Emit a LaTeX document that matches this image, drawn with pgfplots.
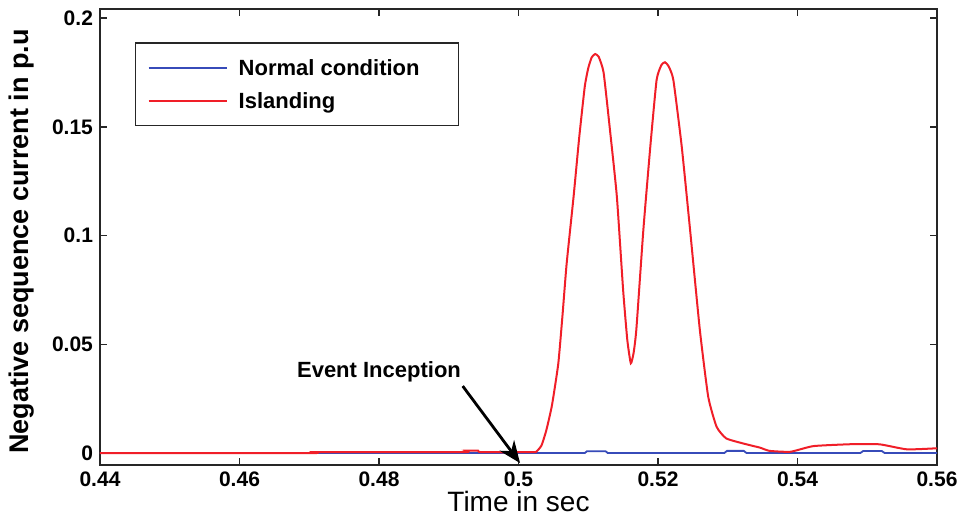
\documentclass[border=0pt]{standalone}
\usepackage{fontspec}
\setmainfont{Liberation Sans}
\usepackage{pgfplots}
\pgfplotsset{compat=1.18}
\usetikzlibrary{arrows.meta}
\definecolor{mblue}{RGB}{55,75,185}
\definecolor{mred}{RGB}{240,30,40}
\begin{document}
\begin{tikzpicture}
\begin{axis}[
  scale only axis,
  width=418.5pt, height=228pt,
  xmin=0.44, xmax=0.56, ymin=-0.0055, ymax=0.2042,
  xtick={0.44,0.46,0.48,0.5,0.52,0.54,0.56},
  xticklabels={0.44,0.46,0.48,0.5,0.52,0.54,0.56},
  ytick={0,0.05,0.1,0.15,0.2},
  yticklabels={0,0.05,0.1,0.15,0.2},
  tick align=inside,
  major tick length=3.5pt,
  xtick pos=both, ytick pos=both,
  axis line style={line width=0.75pt, black!85},
  every tick/.style={line width=0.75pt, black!85},
  tick label style={font=\bfseries\fontsize{10.5}{12}\selectfont},
  /pgf/number format/assume math mode=true,
  xlabel={Time in sec},
  ylabel={Negative sequence current in p.u},
  xlabel style={font=\fontsize{14}{16}\selectfont, at={(axis description cs:0.5,-0.1009)}, anchor=base},
  ylabel style={font=\bfseries\fontsize{13.5}{15}\selectfont, at={(axis description cs:-0.0932,0.49)}, anchor=center},
  legend style={at={(axis description cs:0.0418,0.9276)}, anchor=north west,
    draw=black!85, line width=0.75pt, inner xsep=6pt, inner ysep=6.5pt,
    row sep=4.5pt,
    font=\bfseries\fontsize{11}{13}\selectfont,
    nodes={inner ysep=2pt, inner xsep=2.5pt, text depth=0pt}},
  legend cell align=left,
  legend image code/.code={\draw[#1, line width=1pt] (0pt,0pt) -- (39pt,0pt);},
  clip=true,
]
\addplot[mblue, line width=0.9pt] coordinates {
(0.44,0) (0.5095,0) (0.5098,0.0008) (0.5125,0.0008) (0.5128,0) (0.5295,0) (0.5299,0.001) (0.5323,0.001) (0.5327,0) (0.5490,0) (0.5494,0.0009) (0.5521,0.0009) (0.5525,0) (0.56,0)
};
\addlegendentry{\hspace*{3pt}Normal condition\hspace*{11pt}}
\addplot[mred, line width=1pt, smooth, tension=0.3] coordinates {
(0.44,0) (0.4705,0) (0.4706,0.0004) (0.4920,0.0004) (0.4925,0.0011) (0.4942,0.0011) (0.4947,0.0004) (0.5020,0.0004)
(0.5026,0.0008) (0.5033,0.0035) (0.5040,0.0106) (0.5048,0.022) (0.5057,0.041) (0.5063,0.063) (0.5069,0.087) (0.5079,0.118)
(0.5087,0.145) (0.5095,0.1685) (0.5100,0.177) (0.5105,0.182) (0.5110,0.1835) (0.5115,0.1822) (0.5122,0.175) (0.5131,0.149) (0.5141,0.118)
(0.5150,0.075) (0.5156,0.052) (0.5161,0.0413) (0.5165,0.046) (0.5169,0.057) (0.5179,0.1026) (0.5189,0.141) (0.5198,0.1716)
(0.5205,0.1785) (0.5210,0.1797) (0.5215,0.178) (0.5222,0.1716) (0.5234,0.141) (0.5246,0.1026) (0.5260,0.0566) (0.5272,0.0259)
(0.5284,0.0121) (0.5298,0.0067) (0.5327,0.0040) (0.5346,0.0025) (0.536,0.001) (0.539,0.0006) (0.5423,0.0032) (0.548,0.0041)
(0.5518,0.004) (0.5557,0.0017) (0.56,0.0022)
};
\addlegendentry{\hspace*{3pt}Islanding}
\node[font=\bfseries\fontsize{11}{13}\selectfont] at (axis cs:0.4800,0.0373) {Event Inception};
\draw[line width=1.4pt, -{Stealth[length=11pt,width=9pt]}] (axis cs:0.4920,0.0308) -- (axis cs:0.50022,-0.0046);
\coordinate (ll) at (rel axis cs:0,0);
\coordinate (ur) at (rel axis cs:1,1);
\end{axis}
\pgfresetboundingbox
\path ([shift={(-50pt,-27.5pt)}]ll) rectangle ([shift={(13.5pt,4.5pt)}]ur);
\end{tikzpicture}
\end{document}
